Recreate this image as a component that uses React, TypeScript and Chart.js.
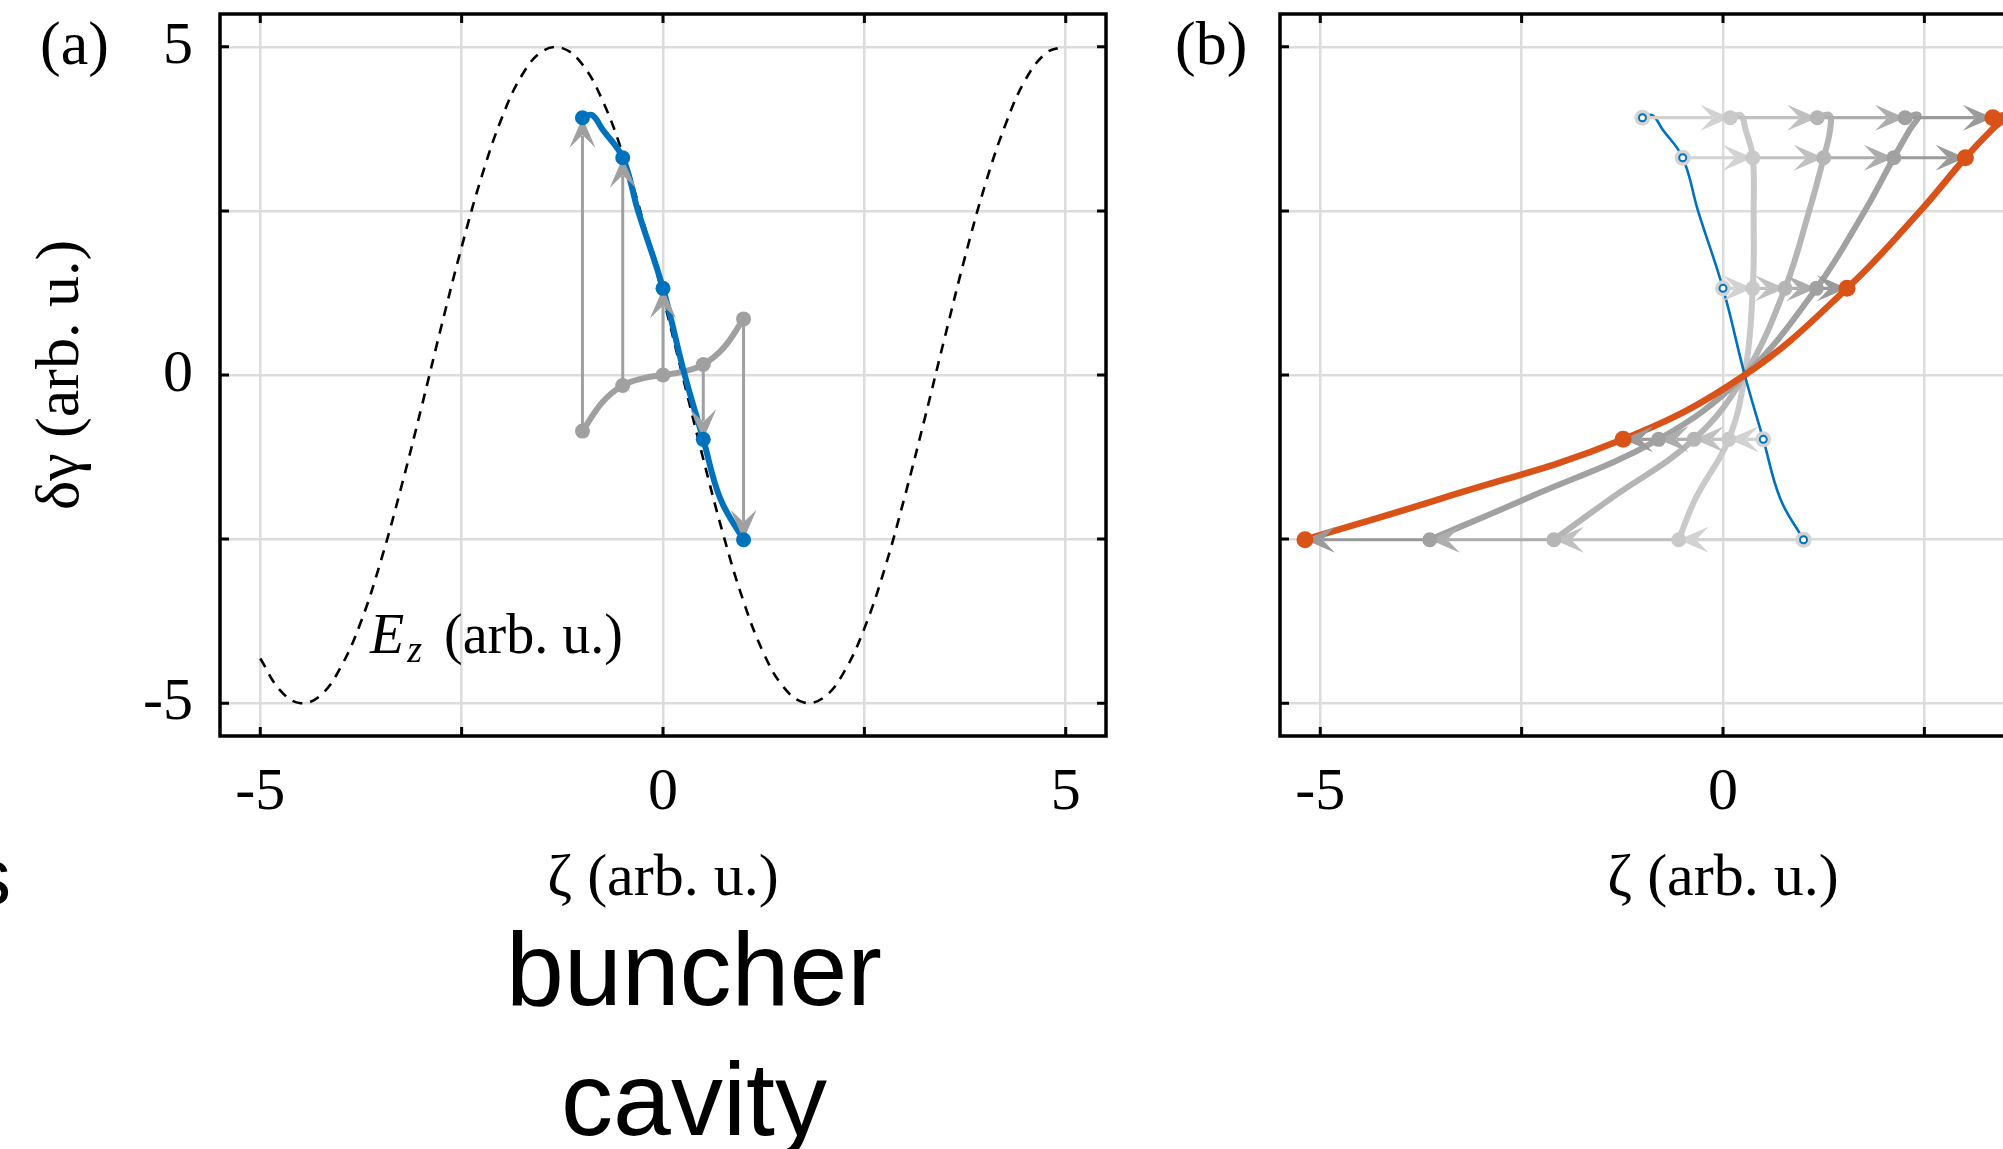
import React, { useEffect, useRef } from "react";
import { Chart, registerables } from "chart.js";

Chart.register(...registerables);

const SERIF = "'Liberation Serif', 'DejaVu Serif', serif";
const SANS = "'Liberation Sans', Arial, sans-serif";

// ---------- axes ----------
const zetaTicks = [-5, -2.5, 0, 2.5, 5];
const deltaGammaTicks = [-5, -2.5, 0, 2.5, 5];
const labelledValues = [-5, 0, 5];

// ---------- panel (a): E_z field (dashed) ----------
const ezZeta = [-5, -4.75, -4.5, -4.25, -4, -3.75, -3.5, -3.25, -3, -2.75, -2.5, -2.25, -2, -1.75, -1.5, -1.25, -1, -0.75, -0.5, -0.25, 0, 0.25, 0.5, 0.75, 1, 1.25, 1.5, 1.75, 2, 2.25, 2.5, 2.75, 3, 3.25, 3.5, 3.75, 4, 4.25, 4.5, 4.75, 4.95];
const ezField = [-4.32, -4.81, -5.0, -4.88, -4.45, -3.76, -2.82, -1.71, -0.5, 0.75, 1.95, 3.03, 3.92, 4.57, 4.93, 4.98, 4.73, 4.18, 3.37, 2.36, 1.19, -0.05, -1.28, -2.44, -3.45, -4.24, -4.76, -4.99, -4.91, -4.52, -3.86, -2.96, -1.86, -0.66, 0.58, 1.8, 2.9, 3.81, 4.5, 4.9, 5.0];

// ---------- panel (a): particles before / after the cavity ----------
const sampleZeta = [-1, -0.5, 0, 0.5, 1];
const entryDeltaGamma = [-0.855, -0.16, 0, 0.16, 0.855];
const exitDeltaGamma = [3.92, 3.31, 1.32, -0.98, -2.51];
const entryCurveZeta = [-1, -0.75, -0.5, -0.25, 0, 0.25, 0.5, 0.75, 1];
const entryCurveDeltaGamma = [-0.855, -0.41, -0.16, -0.05, 0, 0.05, 0.16, 0.41, 0.855];
const exitCurveZeta = [-1, -0.88, -0.75, -0.5, -0.31, 0, 0.27, 0.5, 0.71, 1];
const exitCurveDeltaGamma = [3.92, 3.96, 3.74, 3.31, 2.5, 1.32, 0, -0.98, -1.88, -2.51];

// ---------- panel (b): drift steps ----------
const rowDeltaGamma = [3.92, 3.31, 1.32, -0.98, -2.51];
const driftStep1 = [0.09, 0.37, 0.37, 0.07, -0.55];
const driftStep2 = [1.17, 1.25, 0.77, -0.36, -2.1];
const driftStep3 = [2.26, 2.12, 1.16, -0.8, -3.64];
const driftStep4 = [3.35, 3.01, 1.54, -1.24, -5.19];
const curveStep1Zeta = [0.09, 0.22, 0.28, 0.37, 0.38, 0.37, 0.27, 0.07, -0.34, -0.55];
const curveStep2Zeta = [1.17, 1.32, 1.33, 1.25, 1.07, 0.77, 0.27, -0.36, -1.39, -2.1];
const curveStep3Zeta = [2.26, 2.43, 2.32, 2.12, 1.76, 1.16, 0.27, -0.8, -2.44, -3.64];
const curveStep4Zeta = [3.35, 3.54, 3.34, 3.01, 2.45, 1.54, 0.27, -1.24, -3.49, -5.19];

const BLUE = "#0072BD";
const ORANGE = "#D95319";
const GRAY_A = "#a0a0a0";
const STEP_GRAYS = ["#c9c9c9", "#b5b5b5", "#a1a1a1"];
const ARROW_GRAYS = ["#d2d2d2", "#c0c0c0", "#adadad", "#9a9a9a"];

type Pt = { x: number; y: number };
type ArrowSpec = { from: Pt; to: Pt; color: string; width: number };

const zip = (xs: number[], ys: number[]): Pt[] => xs.map((x, i) => ({ x, y: ys[i] }));

function drawArrow(ctx: CanvasRenderingContext2D, x0: number, y0: number, x1: number, y1: number, color: string, width: number) {
  const headLen = 30;
  const headHalf = 13;
  const len = Math.hypot(x1 - x0, y1 - y0);
  if (len < 1) return;
  const ux = (x1 - x0) / len;
  const uy = (y1 - y0) / len;
  const nx = -uy;
  const ny = ux;
  const shaftEnd = Math.max(0, len - headLen * 0.6);
  ctx.strokeStyle = color;
  ctx.lineWidth = width;
  ctx.lineCap = "butt";
  ctx.beginPath();
  ctx.moveTo(x0, y0);
  ctx.lineTo(x0 + ux * shaftEnd, y0 + uy * shaftEnd);
  ctx.stroke();
  const bx = x1 - ux * headLen;
  const by = y1 - uy * headLen;
  const kx = x1 - ux * headLen * 0.58;
  const ky = y1 - uy * headLen * 0.58;
  ctx.fillStyle = color;
  ctx.beginPath();
  ctx.moveTo(x1, y1);
  ctx.lineTo(bx + nx * headHalf, by + ny * headHalf);
  ctx.lineTo(kx, ky);
  ctx.lineTo(bx - nx * headHalf, by - ny * headHalf);
  ctx.closePath();
  ctx.fill();
}

function arrowPlugin(anchorLabel: string, arrows: ArrowSpec[]) {
  return {
    id: "arrows",
    afterDatasetDraw(chart: any, args: any) {
      if (chart.data.datasets[args.index].label !== anchorLabel) return;
      const { ctx, chartArea: a, scales } = chart;
      ctx.save();
      ctx.beginPath();
      ctx.rect(a.left, a.top, a.right - a.left, a.bottom - a.top);
      ctx.clip();
      for (const ar of arrows) {
        drawArrow(
          ctx,
          scales.x.getPixelForValue(ar.from.x),
          scales.y.getPixelForValue(ar.from.y),
          scales.x.getPixelForValue(ar.to.x),
          scales.y.getPixelForValue(ar.to.y),
          ar.color,
          ar.width
        );
      }
      ctx.restore();
    },
  };
}

const framePlugin = {
  id: "frame",
  afterDraw(chart: any) {
    const { ctx, chartArea: a, scales } = chart;
    ctx.save();
    ctx.strokeStyle = "#000";
    ctx.lineWidth = 3;
    ctx.beginPath();
    for (const v of zetaTicks) {
      const px = scales.x.getPixelForValue(v);
      ctx.moveTo(px, a.top);
      ctx.lineTo(px, a.top + 9);
      ctx.moveTo(px, a.bottom);
      ctx.lineTo(px, a.bottom - 9);
    }
    for (const v of deltaGammaTicks) {
      const py = scales.y.getPixelForValue(v);
      ctx.moveTo(a.left, py);
      ctx.lineTo(a.left + 9, py);
      ctx.moveTo(a.right, py);
      ctx.lineTo(a.right - 9, py);
    }
    ctx.stroke();
    ctx.lineWidth = 3.5;
    ctx.strokeRect(a.left, a.top, a.right - a.left, a.bottom - a.top);
    ctx.restore();
  },
};

function buildScales(yAxisWidth: number, showY: boolean) {
  const font = { family: SERIF, size: 60, lineHeight: 1.2 };
  const grid = { color: "#dcdcdc", lineWidth: 2.5, drawTicks: false };
  return {
    x: {
      type: "linear",
      position: "bottom",
      min: -5.5,
      max: 5.5,
      afterBuildTicks: (s: any) => {
        s.ticks = zetaTicks.map((value) => ({ value }));
      },
      afterFit: (s: any) => {
        s.height = 413;
        s.paddingLeft = 0;
        s.paddingRight = 0;
      },
      grid,
      border: { display: false },
      ticks: {
        color: "#000",
        font,
        padding: 21,
        maxRotation: 0,
        minRotation: 0,
        autoSkip: false,
        callback: (v: any) => (labelledValues.includes(Number(v)) ? String(v) : ""),
      },
      title: { display: true, text: "ζ (arb. u.)", color: "#000", font, padding: { top: 0, bottom: 234 } },
    },
    y: {
      type: "linear",
      position: "left",
      min: -5.5,
      max: 5.5,
      afterBuildTicks: (s: any) => {
        s.ticks = deltaGammaTicks.map((value) => ({ value }));
      },
      afterFit: (s: any) => {
        s.width = yAxisWidth;
        s.paddingTop = 0;
        s.paddingBottom = 0;
      },
      grid,
      border: { display: false },
      ticks: {
        display: showY,
        color: "#000",
        font,
        padding: 27,
        autoSkip: false,
        callback: (v: any) => (labelledValues.includes(Number(v)) ? String(v) : ""),
      },
      title: { display: showY, text: "δγ (arb. u.)", color: "#000", font: { ...font, size: 62 }, padding: { top: 25, bottom: 0 } },
    },
  };
}

function lineDs(label: string, data: Pt[], color: string, width: number, extra: any = {}) {
  return {
    label,
    data,
    showLine: true,
    borderColor: color,
    borderWidth: width,
    borderCapStyle: "round",
    borderJoinStyle: "round",
    pointRadius: 0,
    tension: 0.4,
    fill: false,
    ...extra,
  };
}

function markerDs(label: string, data: Pt[], fill: string, radius: number, border = fill, borderWidth = 0) {
  return {
    label,
    data,
    showLine: false,
    pointRadius: radius,
    pointBackgroundColor: fill,
    pointBorderColor: border,
    pointBorderWidth: borderWidth,
  };
}

function withOrder(list: any[]) {
  // list is bottom -> top; Chart.js draws higher `order` first
  return list.map((d, i) => ({ ...d, order: list.length - i }));
}

function baseOptions(yAxisWidth: number, showY: boolean, rightPad: number) {
  return {
    responsive: false,
    animation: false,
    devicePixelRatio: 1,
    events: [],
    layout: { padding: { top: 14, right: rightPad, left: 0, bottom: 0 } },
    plugins: { legend: { display: false }, tooltip: { enabled: false } },
    scales: buildScales(yAxisWidth, showY),
  };
}

export default function App() {
  const refA = useRef<HTMLCanvasElement>(null);
  const refB = useRef<HTMLCanvasElement>(null);

  useEffect(() => {
    // ----- panel (a) -----
    const arrowsA: ArrowSpec[] = sampleZeta.map((z, i) => ({
      from: { x: z, y: entryDeltaGamma[i] },
      to: { x: z, y: exitDeltaGamma[i] },
      color: GRAY_A,
      width: 3,
    }));
    const dsA = withOrder([
      lineDs("E_z", zip(ezZeta, ezField), "#000", 2.6, { borderDash: [10, 8], borderCapStyle: "butt" }),
      lineDs("entry curve", zip(entryCurveZeta, entryCurveDeltaGamma), GRAY_A, 6),
      lineDs("exit curve", zip(exitCurveZeta, exitCurveDeltaGamma), BLUE, 6),
      markerDs("entry", zip(sampleZeta, entryDeltaGamma), GRAY_A, 7.5),
      markerDs("exit", zip(sampleZeta, exitDeltaGamma), BLUE, 7.5),
    ]);
    const chartA = new Chart(refA.current as HTMLCanvasElement, {
      type: "scatter",
      data: { datasets: dsA },
      options: baseOptions(220, true, 44) as any,
      plugins: [arrowPlugin("exit curve", arrowsA), framePlugin],
    });

    // ----- panel (b) -----
    const steps = [sampleZeta, driftStep1, driftStep2, driftStep3, driftStep4];
    const arrowsB: ArrowSpec[] = [];
    rowDeltaGamma.forEach((dg, i) => {
      for (let j = 0; j < 4; j++) {
        arrowsB.push({
          from: { x: steps[j][i], y: dg },
          to: { x: steps[j + 1][i], y: dg },
          color: ARROW_GRAYS[j],
          width: 3.2,
        });
      }
    });
    const dsB = withOrder([
      lineDs("step 1 curve", zip(curveStep1Zeta, exitCurveDeltaGamma), STEP_GRAYS[0], 6),
      lineDs("step 2 curve", zip(curveStep2Zeta, exitCurveDeltaGamma), STEP_GRAYS[1], 6),
      lineDs("step 3 curve", zip(curveStep3Zeta, exitCurveDeltaGamma), STEP_GRAYS[2], 6),
      lineDs("initial curve", zip(exitCurveZeta, exitCurveDeltaGamma), BLUE, 2.6),
      lineDs("final curve", zip(curveStep4Zeta, exitCurveDeltaGamma), ORANGE, 6.5),
      markerDs("step 1", zip(driftStep1, rowDeltaGamma), STEP_GRAYS[0], 7.5),
      markerDs("step 2", zip(driftStep2, rowDeltaGamma), STEP_GRAYS[1], 7.5),
      markerDs("step 3", zip(driftStep3, rowDeltaGamma), STEP_GRAYS[2], 7.5),
      markerDs("initial halo", zip(sampleZeta, rowDeltaGamma), "#d3d3d3", 8),
      markerDs("initial", zip(sampleZeta, rowDeltaGamma), "#ffffff", 3.5, BLUE, 2),
      markerDs("final", zip(driftStep4, rowDeltaGamma), ORANGE, 8.5),
    ]);
    const chartB = new Chart(refB.current as HTMLCanvasElement, {
      type: "scatter",
      data: { datasets: dsB },
      options: baseOptions(130, false, 44) as any,
      plugins: [arrowPlugin("final curve", arrowsB), framePlugin],
    });

    return () => {
      chartA.destroy();
      chartB.destroy();
    };
  }, []);

  const serifText = (size: number): React.CSSProperties => ({
    position: "absolute",
    fontFamily: SERIF,
    fontSize: size,
    lineHeight: 1,
    whiteSpace: "nowrap",
    color: "#000",
  });
  const sansText = (size: number): React.CSSProperties => ({
    position: "absolute",
    fontFamily: SANS,
    fontSize: size,
    lineHeight: 1,
    whiteSpace: "nowrap",
    color: "#000",
  });

  return (
    <div style={{ position: "fixed", left: 0, top: 0, width: 2003, height: 1149, overflow: "hidden", background: "#fff" }}>
      <canvas ref={refA} width={1150} height={1149} style={{ position: "absolute", left: 0, top: 0 }} />
      <canvas ref={refB} width={1060} height={1149} style={{ position: "absolute", left: 1150, top: 0 }} />
      <div style={{ ...serifText(62), left: 40, top: 12 }}>(a)</div>
      <div style={{ ...serifText(62), left: 1175, top: 12 }}>(b)</div>
      <div style={{ ...serifText(56), left: 370, top: 606 }}>
        <span style={{ fontStyle: "italic" }}>E</span>
        <span style={{ fontStyle: "italic", fontSize: 38, position: "relative", top: 9, marginLeft: 3 }}>z</span>
        <span style={{ marginLeft: 22 }}>(arb. u.)</span>
      </div>
      <div style={{ ...sansText(80), left: -29, top: 837 }}>s</div>
      <div style={{ ...sansText(104), left: 494, width: 400, textAlign: "center", top: 917 }}>buncher</div>
      <div style={{ ...sansText(104), left: 494, width: 400, textAlign: "center", top: 1047 }}>cavity</div>
    </div>
  );
}
